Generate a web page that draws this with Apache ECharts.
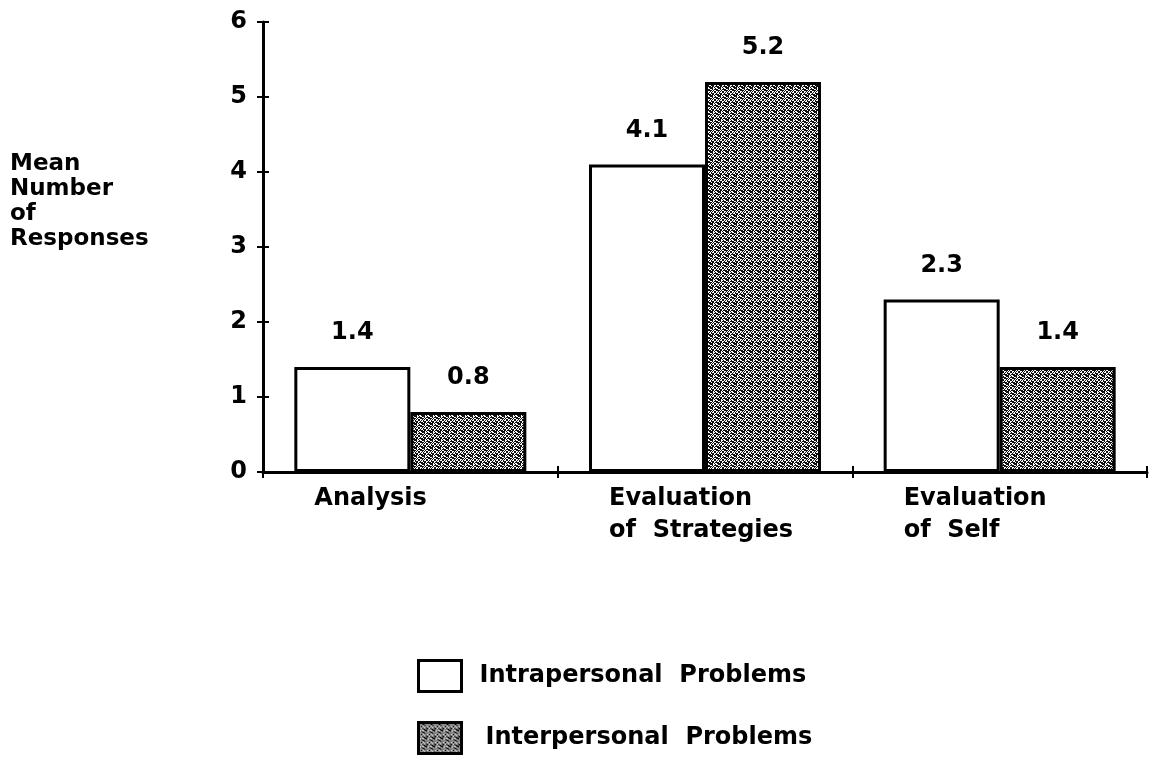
<!DOCTYPE html>
<html><head><meta charset="utf-8">
<script src="https://cdn.jsdelivr.net/npm/echarts@6/dist/echarts.min.js"></script>
<style>html,body{margin:0;padding:0;background:#fff}#c{width:1151px;height:758px}</style>
</head><body><div id="c"></div>
<script>
const categories = ['Analysis', 'Evaluation\nof  Strategies', 'Evaluation\nof  Self'];
const intrapersonal = [1.4, 4.1, 2.3];
const interpersonal = [0.8, 5.2, 1.4];
const seriesNames = ['Intrapersonal  Problems', 'Interpersonal  Problems'];
const yTitle = 'Mean\nNumber\nof\nResponses';

const FONT = 'DejaVu Sans';

// stipple texture for the interpersonal bars
function makePattern() {
  const c = document.createElement('canvas');
  c.width = 8; c.height = 8;
  const g = c.getContext('2d');
  g.fillStyle = '#ffffff'; g.fillRect(0, 0, 8, 8);
  g.fillStyle = '#111111';
  for (let x = 0; x < 8; x++) for (let y = 0; y < 8; y++) {
    if ((x + y) % 3 === 0 || (x - y + 9) % 4 === 0 || (x * 3 + y * 5) % 7 === 0) g.fillRect(x, y, 1, 1);
  }
  return c;
}
const pattern = { image: makePattern(), repeat: 'repeat' };

const chart = echarts.init(document.getElementById('c'), null, { renderer: 'canvas' });
const labelStyle = { show: true, position: 'top', distance: 22, fontFamily: FONT, fontWeight: 'bold', fontSize: 24, color: '#000',
  formatter: p => p.value.toFixed(1) };
const legendText = { fontFamily: FONT, fontWeight: 'bold', fontSize: 24, color: '#000', padding: [0, 0, 0, 13] };
const legendItem = { borderColor: '#000', borderWidth: 3 };

chart.setOption({
  animation: false,
  backgroundColor: '#fff',
  grid: { left: 263, right: 4, top: 22, bottom: 286, containLabel: false },
  xAxis: [
    { type: 'category', data: categories, position: 'bottom',
      axisLine: { lineStyle: { color: '#000', width: 3 } },
      axisTick: { show: true, length: 6, lineStyle: { color: '#000', width: 2 } },
      axisLabel: { show: false } },
    { type: 'category', data: categories, position: 'bottom',
      axisLine: { show: false },
      axisTick: { show: true, inside: true, length: 6, lineStyle: { color: '#000', width: 2 } },
      axisLabel: { show: false } }
  ],
  yAxis: [
    { type: 'value', min: 0, max: 6, interval: 1,
      axisLine: { show: true, lineStyle: { color: '#000', width: 3 } },
      axisTick: { show: true, length: 6, lineStyle: { color: '#000', width: 2 } },
      axisLabel: { margin: 16, fontFamily: FONT, fontWeight: 'bold', fontSize: 24, color: '#000' },
      splitLine: { show: false } },
    { type: 'value', min: 0, max: 6, interval: 1, position: 'left',
      axisLine: { show: false },
      axisTick: { show: true, inside: true, length: 6, lineStyle: { color: '#000', width: 2 } },
      axisLabel: { show: false }, splitLine: { show: false } }
  ],
  legend: [
    { left: 417, top: 659, padding: 0, itemWidth: 43, itemHeight: 31, icon: 'rect', itemStyle: legendItem,
      textStyle: legendText, data: [seriesNames[0]] },
    { left: 417, top: 721, padding: 0, itemWidth: 43, itemHeight: 31, icon: 'rect', itemStyle: legendItem,
      textStyle: Object.assign({}, legendText, { padding: [0, 0, 0, 19] }), data: [seriesNames[1]] }
  ],
  series: [
    { name: seriesNames[0], type: 'bar', data: intrapersonal, barWidth: 116, barGap: '0%',
      itemStyle: { color: '#ffffff', borderColor: '#000', borderWidth: 3 }, label: labelStyle },
    { name: seriesNames[1], type: 'bar', data: interpersonal, barWidth: 116, barGap: '0%',
      itemStyle: { color: pattern, borderColor: '#000', borderWidth: 3 }, label: labelStyle }
  ]
});

// category labels, left-aligned under each band, placed via the axis scale
const graphics = categories.map((cat, i) => {
  const cx = chart.convertToPixel({ xAxisIndex: 0 }, i);
  return { type: 'text', left: cx - 96, top: 483,
    style: { text: cat, fontFamily: FONT, fontWeight: 'bold', fontSize: 24, lineHeight: 32, fill: '#000' } };
});
graphics.push({ type: 'text', left: 10, top: 152,
  style: { text: yTitle, fontFamily: FONT, fontWeight: 'bold', fontSize: 23, lineHeight: 25, fill: '#000' } });
chart.setOption({ graphic: graphics });
</script>
</body></html>
